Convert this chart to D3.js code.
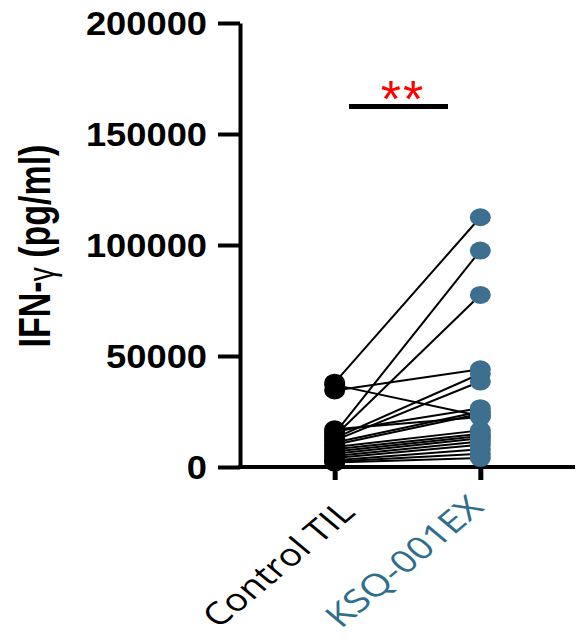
<!DOCTYPE html>
<html>
<head>
<meta charset="utf-8">
<script src="https://cdn.jsdelivr.net/npm/d3@7"></script>
<style>
  html, body { margin: 0; padding: 0; background: #fff; }
  svg { display: block; }
</style>
</head>
<body>
<svg id="chart" width="582" height="638"></svg>
<script>
// ---- data ----
const categories = ["Control TIL", "KSQ-001EX"];
const controlValues = [38000, 15000, 14000, 34500, 37000, 13000, 12000, 16000, 11000, 10000,
                       17000, 9000, 8000, 7000, 6000, 5000, 4000, 3000, 2500, 2000];
const ksqValues     = [112500, 97500, 77500, 44000, 23000, 42000, 38500, 26500, 25000, 24000,
                       22500, 16500, 15000, 14000, 13000, 11500, 10000, 8000, 6000, 4000];
const yTicks = [0, 50000, 100000, 150000, 200000];
const yLabel = ["IFN-", "γ", " (pg/ml)"];
const sigLabel = "**";

// ---- style ----
const ksqColor = "#3f6f8e";
const ksqText = "#2f6d8d";

const svg = d3.select("#chart");

const y = d3.scaleLinear().domain([0, 200000]).range([467, 23]);
const x = d3.scalePoint().domain(categories).range([240, 575]).padding(0.65);

// y axis
const yAxis = svg.append("g")
  .attr("transform", "translate(240,0)")
  .call(d3.axisLeft(y).tickValues(yTicks).tickSize(22).tickSizeOuter(0).tickFormat(d3.format("d")));
yAxis.select(".domain").attr("stroke", "#000").attr("stroke-width", 4);
yAxis.selectAll(".tick line").attr("stroke", "#000").attr("stroke-width", 4);
yAxis.selectAll(".tick text")
  .attr("x", -33 / 1.1)
  .attr("dy", "0.36em")
  .attr("transform", "scale(1.1,1)")
  .style("font-family", "'Liberation Sans', Arial, sans-serif")
  .style("font-weight", "bold")
  .style("font-size", "33px")
  .attr("fill", "#000");

// x axis
const xAxis = svg.append("g")
  .attr("transform", "translate(0,467)")
  .call(d3.axisBottom(x).tickSize(13).tickSizeOuter(0).tickFormat(""));
xAxis.select(".domain").attr("stroke", "#000").attr("stroke-width", 4)
  .attr("d", "M238,0H575");
xAxis.selectAll(".tick line").attr("stroke", "#000").attr("stroke-width", 5);

// category labels
const labelEnd = { "Control TIL": [22, 47], "KSQ-001EX": [5, 42] };
const labelLen = { "Control TIL": 163, "KSQ-001EX": 170 };
svg.append("g").selectAll("text")
  .data(categories)
  .join("text")
  .attr("transform", d => `translate(${x(d) + labelEnd[d][0]},${467 + labelEnd[d][1]}) scale(1.2,1) rotate(-45)`)
  .attr("text-anchor", "end")
  .attr("textLength", d => labelLen[d])
  .attr("lengthAdjust", "spacingAndGlyphs")
  .style("font-family", "'Open Sans', 'DejaVu Sans', sans-serif")
  .style("font-weight", "400")
  .style("font-size", "31px")
  .attr("fill", (d, i) => i === 0 ? "#000" : ksqText)
  .text(d => d);

// y label
const yl = svg.append("text")
  .attr("transform", "translate(50,246) scale(1.3,1) rotate(-90)")
  .attr("text-anchor", "middle")
  .style("font-family", "'Liberation Sans', Arial, sans-serif")
  .style("font-weight", "bold")
  .style("font-size", "34px")
  .attr("fill", "#000");
yl.append("tspan").text(yLabel[0]);
yl.append("tspan").style("font-weight", "normal").style("font-size", "28px").attr("dy", "3").text(yLabel[1]);
yl.append("tspan").attr("dy", "-3").text(yLabel[2]);

// paired lines
const pairs = controlValues.map((c, i) => [c, ksqValues[i]]);
svg.append("g").selectAll("line")
  .data(pairs)
  .join("line")
  .attr("x1", x(categories[0]))
  .attr("y1", d => y(d[0]))
  .attr("x2", x(categories[1]))
  .attr("y2", d => y(d[1]))
  .attr("stroke", "#000")
  .attr("stroke-width", 2);

// points
svg.append("g").selectAll("ellipse")
  .data(controlValues)
  .join("ellipse")
  .attr("cx", x(categories[0]))
  .attr("cy", d => y(d))
  .attr("rx", 10.5)
  .attr("ry", 9)
  .attr("fill", "#000");
svg.append("g").selectAll("ellipse")
  .data(ksqValues)
  .join("ellipse")
  .attr("cx", x(categories[1]))
  .attr("cy", d => y(d))
  .attr("rx", 10.5)
  .attr("ry", 9)
  .attr("fill", ksqColor);

// significance bar
svg.append("line")
  .attr("x1", 349).attr("x2", 448)
  .attr("y1", 106.5).attr("y2", 106.5)
  .attr("stroke", "#000").attr("stroke-width", 5);
svg.append("text")
  .attr("x", 403).attr("y", 117)
  .attr("text-anchor", "middle")
  .style("font-family", "'Liberation Sans', Arial, sans-serif")
  .style("font-size", "52px")
  .style("letter-spacing", "2px")
  .attr("fill", "#ff0000")
  .text(sigLabel);
</script>
</body>
</html>
